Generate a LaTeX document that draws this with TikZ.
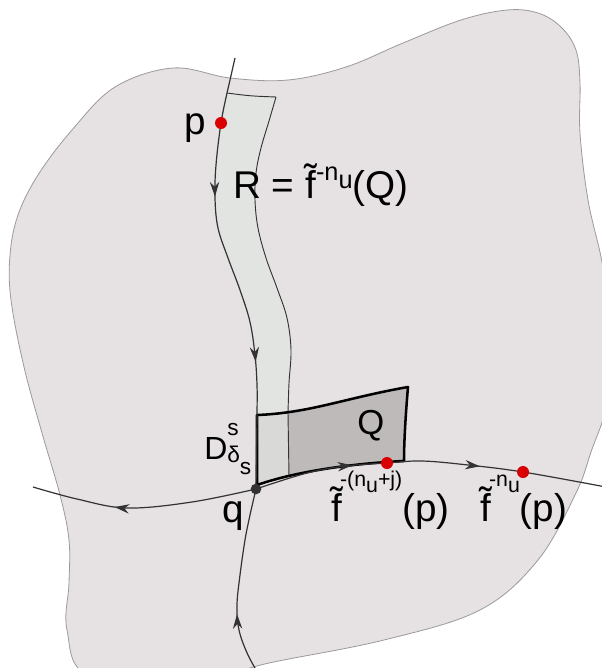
\documentclass[tikz,border=0pt]{standalone}
\usepackage{fontspec}
\setmainfont{Liberation Sans}
\usetikzlibrary{arrows.meta, decorations.markings}

\definecolor{blobfill}{HTML}{E6E1E2}
\definecolor{blobline}{HTML}{9C9A9A}
\definecolor{stripfill}{HTML}{E1E4E0}
\definecolor{qfill}{HTML}{BEBABA}
\definecolor{qlight}{HTML}{D9D9D7}
\definecolor{linegray}{HTML}{333333}
\definecolor{dotred}{HTML}{D80000}

% raised exponent, lowered index
\newcommand{\supr}[3][19]{\raisebox{#2}{\fontsize{#1}{#1}\selectfont #3}}
\newcommand{\lowu}[1]{\raisebox{-0.3em}{#1}}

\begin{document}
\begin{tikzpicture}[x=0.75pt, y=-0.75pt,
  curve/.style={color=linegray, line width=0.9pt},
  midtip/.style={postaction={decorate, decoration={markings,
      mark=at position #1 with {\arrow{Stealth[length=11pt, width=7pt]}}}}},
  rdot/.style={circle, fill=dotred, inner sep=0pt, minimum size=9pt},
  qdot/.style={circle, fill=linegray, inner sep=0pt, minimum size=8pt},
  lbl/.style={inner sep=0pt, anchor=base west, font=\fontsize{29}{31}\selectfont}]
  \useasboundingbox (0,0) rectangle (602,668);
  \clip (0,0) rectangle (602,668);

  % the region
  \path[fill=blobfill, draw=blobline, line width=0.6pt] plot[smooth cycle, tension=0.6]
    coordinates {(115,87) (173,68) (230,78) (288,80) (346,67) (403,43) (461,20)
      (507,10) (538,13) (561,27) (576,50) (580,83) (580,133) (588,200) (602,262)
      (612,330) (608,400) (591,452) (576,493) (538,560) (480,610) (384,640)
      (269,663) (200,680) (90,676) (67,630) (69,583) (69,540) (60,495) (42,433)
      (24,367) (11,300) (10,255) (18,215) (38,175) (72,130)};

  \coordinate (ws0) at (235,58);
  \coordinate (p) at (221,123);
  \coordinate (qtl) at (257,415);
  \coordinate (q) at (256,489);
  \coordinate (ws1) at (262,680);
  \coordinate (wl) at (33,487);
  \coordinate (wr) at (606,487);
  \coordinate (fj) at (387,463);
  \coordinate (fn) at (523,472);
  \coordinate (qtr) at (408,387);
  \coordinate (qbr) at (404,461);

  % the strip R
  \path[fill=stripfill] plot[smooth, tension=0.6] coordinates {(227,93) (p)
      (216,165) (215,198) (218,228) (228,258) (240,290) (250,322) (255,355)
      (257,385) (qtl)}
    -- plot[smooth, tension=0.6] coordinates {(288,413) (289,383) (291,350)
      (287,318) (277,288) (266,258) (258,228) (255,200) (256,173) (261,148)
      (269,121) (276,97)} -- cycle;
  \draw[curve, line width=0.7pt] (227,93) .. controls (250,96) .. (276,97)
    plot[smooth, tension=0.6] coordinates {(276,97) (269,121) (261,148)
      (256,173) (255,200) (258,228) (266,258) (277,288) (287,318) (291,350)
      (289,383) (288,413)};

  % the box Q
  \path[fill=qfill] (qtl) .. controls (310,413) and (345,398) .. (qtr)
    .. controls (406,410) and (404,440) .. (qbr)
    .. controls (360,463) and (300,470) .. (257,485) -- cycle;
  \path[fill=qlight] (qtl) -- (288,413) -- (289,477) -- (257,485) -- cycle;
  \draw[curve, line width=0.7pt] (288,413) -- (289,477);
  \draw[black, line width=1.9pt, line join=round] (qtl)
    .. controls (310,413) and (345,398) .. (qtr)
    .. controls (406,410) and (404,440) .. (qbr)
    .. controls (360,463) and (300,470) .. (257,485) -- cycle;

  % stable and unstable curves through q
  \draw[curve, midtip=0.32, midtip=0.71] plot[smooth, tension=0.6] coordinates
    {(ws0) (230,80) (227,93) (p) (216,165) (215,198) (218,228) (228,258)
     (240,290) (250,322) (255,355) (257,385) (qtl) (q)};
  \draw[curve, midtip=0.36] plot[smooth, tension=0.6] coordinates
    {(ws1) (248,655) (239,630) (237,605) (240,575) (245,540) (250,515) (q)};
  \draw[curve, midtip=0.63] plot[smooth, tension=0.6] coordinates
    {(q) (192,502) (127,508) (77,499) (wl)};
  \draw[curve, midtip=0.28, midtip=0.64] plot[smooth, tension=0.6] coordinates
    {(q) (307,473) (346,466) (fj) (422,461) (468,465) (fn) (wr)};

  % points
  \node[rdot] (pdot) at (p) {};
  \node[qdot] (qdot) at (q) {};
  \node[rdot] (fjdot) at (fj) {};
  \node[rdot] (fndot) at (fn) {};

  % labels
  \node[lbl] (plbl) at (184,134) {p};
  \node[lbl] (rlbl) at (233,198) {R = f^^^^0303\supr{0.45em}{-n\lowu{u}}(Q)};
  \node[lbl, font=\fontsize{26}{28}\selectfont] (qlbl) at (357,434) {Q};
  \node[lbl, font=\fontsize{24}{26}\selectfont] (dlbl) at (204,459)
    {D\rlap{\raisebox{0.75em}{\fontsize{17}{17}\selectfont s}}%
     \raisebox{-0.1em}{\fontsize{17}{17}\selectfont δ\raisebox{-0.55em}{s}}};
  \node[lbl] (qqlbl) at (222,522) {q};
  \node[lbl] (fjlbl) at (331,521)
    {f^^^^0303\kern-0.05em\supr[16]{0.9em}{-(n\lowu{u}+j)}(p)};
  \node[lbl] (fnlbl) at (480,521)
    {f^^^^0303\kern-0.05em\supr[16]{0.9em}{-n\lowu{u}}(p)};
\end{tikzpicture}
\end{document}
